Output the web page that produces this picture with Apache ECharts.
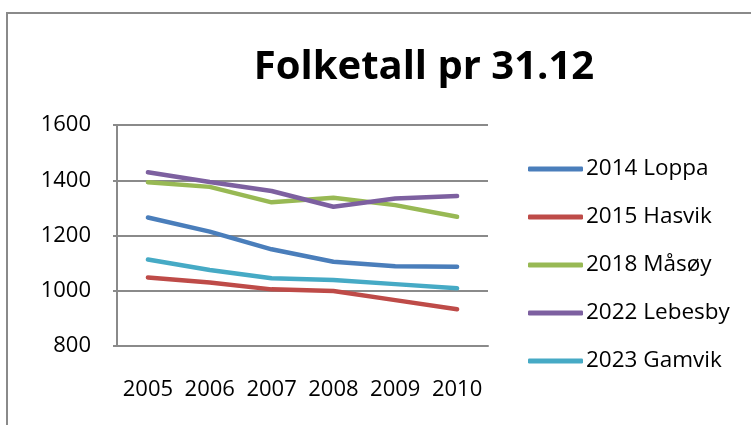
<!DOCTYPE html>
<html>
<head>
<meta charset="utf-8">
<script src="https://cdn.jsdelivr.net/npm/echarts@6/dist/echarts.min.js"></script>
<style>
  html, body { margin: 0; padding: 0; background: #fff; }
  #frame {
    position: absolute; left: 6px; top: 12px; width: 760px; height: 430px;
    border: 2px solid #8a8a8a; box-sizing: border-box;
  }
  #chart { position: absolute; left: 0; top: 0; width: 751px; height: 425px; }
</style>
</head>
<body>
<div id="frame"></div>
<div id="chart"></div>
<script>
// år
const years = ['2005', '2006', '2007', '2008', '2009', '2010']

// folketall pr kommune
const loppa = [1265, 1214, 1150, 1105, 1089, 1087]
const hasvik = [1048, 1030, 1005, 999, 966, 933]
const masoy = [1393, 1376, 1320, 1337, 1310, 1268]
const lebesby = [1429, 1394, 1361, 1304, 1334, 1343]
const gamvik = [1113, 1075, 1045, 1039, 1024, 1009]

const names = ['2014 Loppa', '2015 Hasvik', '2018 Måsøy', '2022 Lebesby', '2023 Gamvik']
const colors = ['#4a7ebb', '#be4b48', '#98b954', '#7d60a0', '#46aac5']
const values = [loppa, hasvik, masoy, lebesby, gamvik]

const font = "'Open Sans', sans-serif"

const chart = echarts.init(document.getElementById('chart'))

const option = {
  animation: false,
  title: {
    text: 'Folketall pr 31.12',
    left: 419,
    textAlign: 'center',
    top: 43,
    textStyle: { fontFamily: font, fontSize: 40, fontWeight: 'bold', color: '#000' }
  },
  legend: {
    orient: 'vertical',
    left: 523,
    top: 151,
    icon: 'roundRect',
    itemWidth: 55,
    itemHeight: 5,
    itemGap: 22,
    textStyle: { fontFamily: font, fontSize: 22.5, color: '#000', lineHeight: 26, padding: [0, 0, 0, -2] },
    data: names
  },
  grid: { left: 117, top: 125, width: 371, height: 221, containLabel: false },
  xAxis: {
    type: 'category',
    data: years,
    boundaryGap: true,
    axisLine: { lineStyle: { color: '#8a8a8a', width: 2 } },
    axisTick: { show: false },
    axisLabel: { fontFamily: font, fontSize: 22, color: '#000', margin: 33, interval: 0 }
  },
  yAxis: {
    type: 'value',
    min: 800,
    max: 1600,
    interval: 200,
    axisLine: { show: true, lineStyle: { color: '#8a8a8a', width: 2 } },
    axisTick: { show: true, length: 4, lineStyle: { color: '#8a8a8a', width: 2 } },
    splitLine: { lineStyle: { color: '#8a8a8a', width: 2 } },
    axisLabel: { fontFamily: font, fontSize: 22, color: '#000', margin: 26, formatter: v => String(v) }
  },
  series: values.map((v, i) => ({
    name: names[i],
    type: 'line',
    data: v,
    symbol: 'none',
    color: colors[i],
    lineStyle: { width: 4.5, color: colors[i], cap: 'round' }
  }))
}

chart.setOption(option)
</script>
</body>
</html>
